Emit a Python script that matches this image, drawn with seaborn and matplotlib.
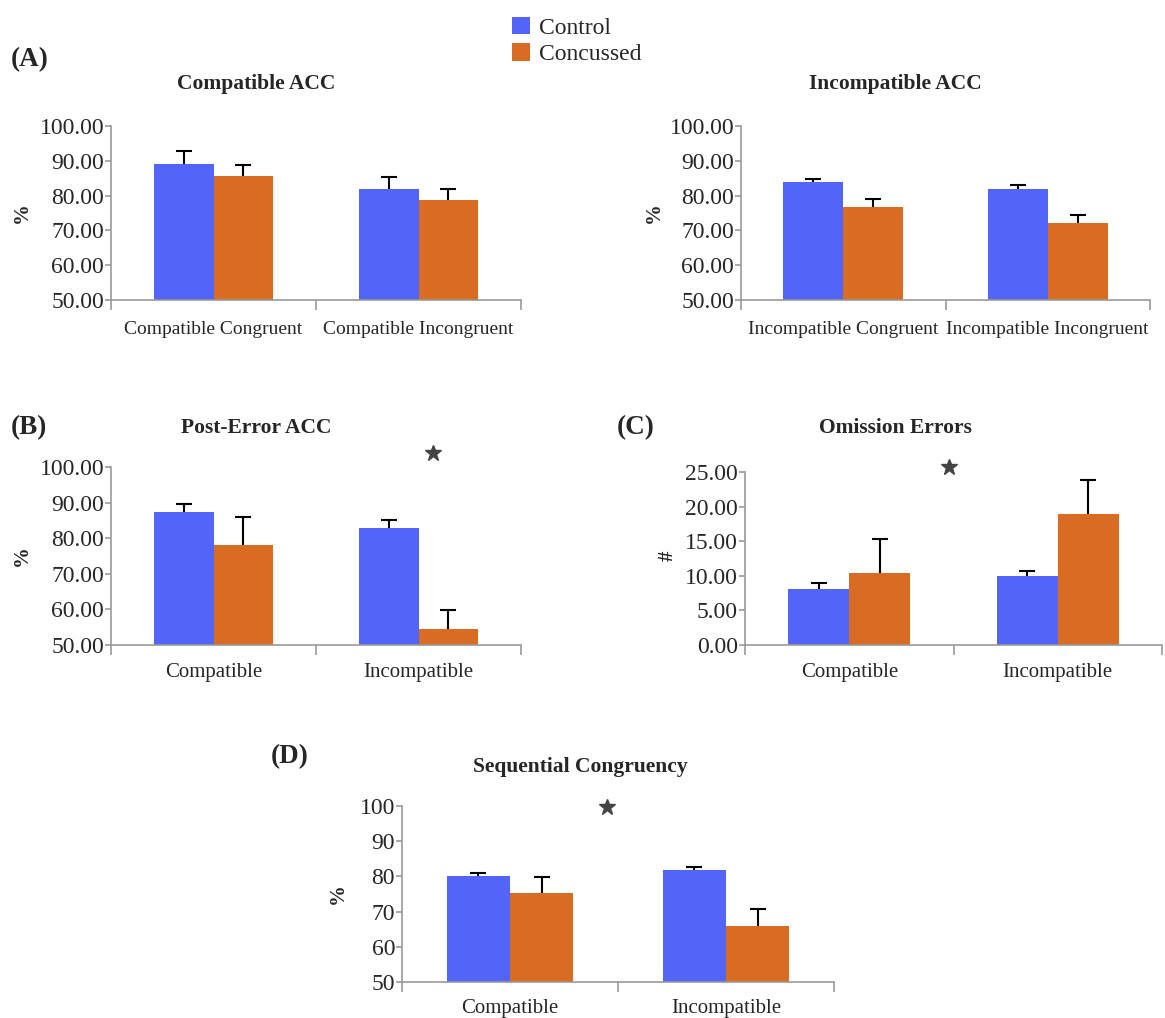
import matplotlib
matplotlib.use("Agg")
import matplotlib.pyplot as plt
from matplotlib.patches import Patch
from matplotlib.ticker import FormatStrFormatter
import pandas as pd
import seaborn as sns

# groups
groups = ["Control", "Concussed"]
colors = ["#5364F8", "#D86C22"]

# (A) compatible / incompatible accuracy
compat_cats = ["Compatible Congruent", "Compatible Incongruent"]
compat_control = [89.2, 81.8]
compat_concussed = [85.5, 78.7]
compat_control_err = [3.7, 3.6]
compat_concussed_err = [3.2, 3.2]

incompat_cats = ["Incompatible Congruent", "Incompatible Incongruent"]
incompat_control = [83.9, 81.8]
incompat_concussed = [76.8, 72.2]
incompat_control_err = [1.0, 1.2]
incompat_concussed_err = [2.1, 2.1]

# (B) post-error accuracy
post_cats = ["Compatible", "Incompatible"]
post_control = [87.4, 82.8]
post_concussed = [78.2, 54.6]
post_control_err = [2.1, 2.4]
post_concussed_err = [7.7, 5.3]

# (C) omission errors
omis_cats = ["Compatible", "Incompatible"]
omis_control = [8.1, 9.9]
omis_concussed = [10.4, 18.95]
omis_control_err = [0.8, 0.8]
omis_concussed_err = [4.95, 4.85]

# (D) sequential congruency
seq_cats = ["Compatible", "Incompatible"]
seq_control = [80.1, 81.7]
seq_concussed = [75.2, 66.0]
seq_control_err = [0.8, 1.0]
seq_concussed_err = [4.7, 4.6]

# significance stars (category position, value)
post_star = (1.07, 103.8)
omis_star = (0.48, 25.7)
seq_star = (0.45, 99.7)

W, H = 1165, 1018


def rect(x0, x1, y0, y1):
    return [x0 / W, 1 - y1 / H, (x1 - x0) / W, (y1 - y0) / H]


def ftext(fig, x, y, s, **kw):
    fig.text(x / W, 1 - y / H, s, **kw)


def draw_panel(ax, cats, ctrl, conc, ctrl_err, conc_err, ylim, step, fmt,
               xpad=13, xsize=15):
    df = pd.DataFrame({
        "condition": cats * 2,
        "value": ctrl + conc,
        "group": [groups[0]] * len(cats) + [groups[1]] * len(cats),
    })
    sns.barplot(data=df, x="condition", y="value", hue="group", palette=colors,
                width=0.585, errorbar=None, saturation=1, legend=False,
                linewidth=0, ax=ax)
    # one-sided error bars with a cap on top only
    for cont, errs in zip(ax.containers, [ctrl_err, conc_err]):
        for bar, e in zip(cont, errs):
            x = bar.get_x() + bar.get_width() / 2
            top = bar.get_height()
            ax.vlines(x, top, top + e, color="black", lw=1.5, zorder=3)
            ax.plot(x, top + e, marker="_", ms=11, mew=1.5, color="black", zorder=3)
    ax.set_ylim(*ylim)
    ax.set_xlim(-0.5, len(cats) - 0.5)
    ax.set_yticks([ylim[0] + i * step for i in range(int((ylim[1] - ylim[0]) / step) + 1)])
    ax.yaxis.set_major_formatter(FormatStrFormatter(fmt))
    ax.set_xticks(range(len(cats)))
    ax.set_xticklabels(cats)
    ax.set_xticks([i - 0.5 for i in range(len(cats) + 1)], minor=True)
    ax.tick_params(axis="x", which="major", length=0, pad=xpad, labelsize=xsize)
    ax.tick_params(axis="x", which="minor", length=7, color="#999999", width=1.2)
    ax.tick_params(axis="y", length=4, color="#999999", width=1.2, labelsize=17, pad=1)
    ax.set_xlabel("")
    ax.set_ylabel("")
    for side in ["top", "right"]:
        ax.spines[side].set_visible(False)
    for side in ["left", "bottom"]:
        ax.spines[side].set_color("#999999")
        ax.spines[side].set_linewidth(1.2)


sns.set_style("ticks")
plt.rcParams["font.family"] = ["Liberation Serif", "DejaVu Serif"]

fig = plt.figure(figsize=(W / 100, H / 100), dpi=100)

ax_a1 = fig.add_axes(rect(111, 521, 126, 300))
draw_panel(ax_a1, compat_cats, compat_control, compat_concussed,
           compat_control_err, compat_concussed_err, (50, 100), 10, "%.2f",
           xpad=15, xsize=14)
ax_a2 = fig.add_axes(rect(741, 1150, 126, 300))
draw_panel(ax_a2, incompat_cats, incompat_control, incompat_concussed,
           incompat_control_err, incompat_concussed_err, (50, 100), 10, "%.2f",
           xpad=15, xsize=14)
ax_b = fig.add_axes(rect(111, 521, 467, 645))
draw_panel(ax_b, post_cats, post_control, post_concussed,
           post_control_err, post_concussed_err, (50, 100), 10, "%.2f")
ax_c = fig.add_axes(rect(745, 1162, 472, 645))
draw_panel(ax_c, omis_cats, omis_control, omis_concussed,
           omis_control_err, omis_concussed_err, (0, 25), 5, "%.2f")
ax_d = fig.add_axes(rect(402, 834, 806, 982))
draw_panel(ax_d, seq_cats, seq_control, seq_concussed,
           seq_control_err, seq_concussed_err, (50, 100), 10, "%d", xpad=12)

for ax, star in [(ax_b, post_star), (ax_c, omis_star), (ax_d, seq_star)]:
    ax.plot(*star, marker="*", ms=12, color="#444444", clip_on=False)

# titles, panel letters, axis labels
tkw = dict(fontsize=15.5, fontweight="bold", ha="center", va="center")
ftext(fig, 256, 84, "Compatible ACC", **tkw)
ftext(fig, 895, 84, "Incompatible ACC", **tkw)
ftext(fig, 256, 428, "Post-Error ACC", **tkw)
ftext(fig, 895, 428, "Omission Errors", **tkw)
ftext(fig, 580, 767, "Sequential Congruency", **tkw)

lkw = dict(fontsize=19.5, fontweight="bold", ha="left", va="center")
ftext(fig, 11, 60, "(A)", **lkw)
ftext(fig, 11, 428, "(B)", **lkw)
ftext(fig, 617, 428, "(C)", **lkw)
ftext(fig, 271, 757, "(D)", **lkw)

ykw = dict(fontsize=15, fontweight="bold", ha="center", va="center", rotation=90)
ftext(fig, 22, 213, "%", **ykw)
ftext(fig, 654, 213, "%", **ykw)
ftext(fig, 22, 556, "%", **ykw)
ftext(fig, 668, 556, "#", **ykw)
ftext(fig, 338, 894, "%", **ykw)

handles = [Patch(facecolor=c, edgecolor="none") for c in colors]
fig.legend(handles, groups, loc="upper left", bbox_to_anchor=(500 / W, 1 - 5 / H),
           frameon=False, fontsize=17, handlelength=0.75, handleheight=0.75,
           handletextpad=0.4, labelspacing=0.2, borderpad=0)

fig.savefig("out.png", dpi=100)
